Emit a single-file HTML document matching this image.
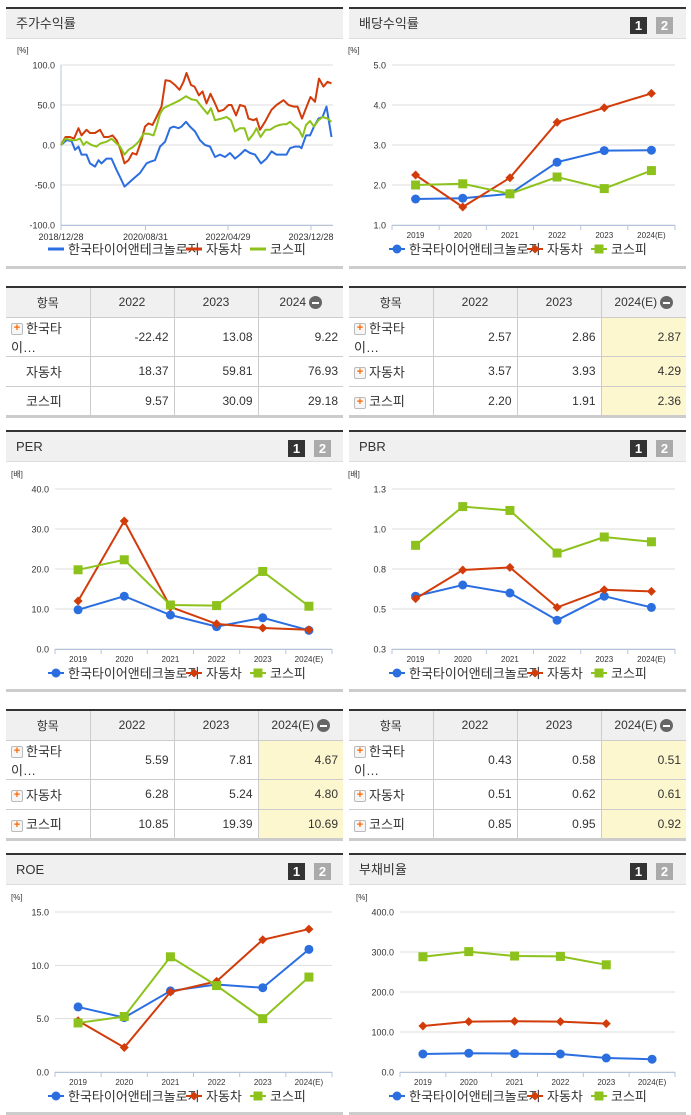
<!DOCTYPE html>
<html><head><meta charset="utf-8">
<style>
body{margin:0;width:691px;height:1115px;background:#fff;position:relative;overflow:hidden;font-family:"Liberation Sans","Noto Sans CJK KR",sans-serif;}
.panel{position:absolute;border-top:2px solid #333;border-bottom:3px solid #ccc;box-sizing:border-box;}
.ttl{position:absolute;left:0;top:0;right:0;height:30px;background:#f0f0f0;border-bottom:1px solid #ddd;font-size:13px;color:#333;line-height:30px;padding-left:10px;box-sizing:border-box;}
.btn{position:absolute;top:8px;width:17px;height:17px;font-size:13px;font-weight:bold;color:#fff;text-align:center;line-height:17px;}
table{position:absolute;border-collapse:collapse;border-top:2px solid #333;border-bottom:3px solid #ccc;font-size:12px;color:#333;}
td,th{border:1px solid #ccc;height:30px;padding:0 5px;box-sizing:border-box;}
th{background:#f0f0f0;font-weight:normal;text-align:center;}
td{text-align:right;}
td.n{text-align:left;font-size:13px;}
tr td:first-child,tr th:first-child{border-left:none;}
tr td:last-child,tr th:last-child{border-right:none;}
.y{background:#fdf7cf;}
.plus{display:inline-block;width:10px;height:10px;border:1px solid #bbb;border-radius:2px;background:#f6f6f6;color:#f60;font-size:11px;line-height:9px;text-align:center;font-weight:bold;vertical-align:middle;margin-right:3px;}
.minus{display:inline-block;width:13px;height:13px;border-radius:50%;background:#666;vertical-align:middle;position:relative;margin-left:3px;}
.minus:after{content:"";position:absolute;left:3px;top:6px;width:7px;height:2px;background:#fff;}
svg{position:absolute;left:0;top:0;}
</style></head><body>

<div class="panel" style="left:6px;top:7px;width:337px;height:262px;"><div class="ttl">주가수익률</div></div>
<div class="panel" style="left:349px;top:7px;width:337px;height:262px;"><div class="ttl">배당수익률</div>
<div class="btn" style="left:281px;background:#333;">1</div><div class="btn" style="left:307px;background:#aaa;">2</div></div>
<div class="panel" style="left:6px;top:430px;width:337px;height:262px;"><div class="ttl">PER</div>
<div class="btn" style="left:282px;background:#333;">1</div><div class="btn" style="left:308px;background:#aaa;">2</div></div>
<div class="panel" style="left:349px;top:430px;width:337px;height:262px;"><div class="ttl">PBR</div>
<div class="btn" style="left:281px;background:#333;">1</div><div class="btn" style="left:307px;background:#aaa;">2</div></div>
<div class="panel" style="left:6px;top:853px;width:337px;height:262px;"><div class="ttl">ROE</div>
<div class="btn" style="left:282px;background:#333;">1</div><div class="btn" style="left:308px;background:#aaa;">2</div></div>
<div class="panel" style="left:349px;top:853px;width:337px;height:262px;"><div class="ttl">부채비율</div>
<div class="btn" style="left:281px;background:#333;">1</div><div class="btn" style="left:307px;background:#aaa;">2</div></div>

<table style="left:6px;top:286px;width:337px;">
<tr><th style="width:84px">항목</th><th style="width:84px">2022</th><th style="width:84px">2023</th><th>2024<span class="minus"></span></th></tr>
<tr><td class="n"><span class="plus">+</span>한국타이…</td><td>-22.42</td><td>13.08</td><td>9.22</td></tr>
<tr><td class="n" style="padding-left:20px">자동차</td><td>18.37</td><td>59.81</td><td>76.93</td></tr>
<tr><td class="n" style="padding-left:20px">코스피</td><td>9.57</td><td>30.09</td><td>29.18</td></tr>
</table>
<table style="left:349px;top:286px;width:337px;">
<tr><th style="width:84px">항목</th><th style="width:84px">2022</th><th style="width:84px">2023</th><th class="y" style="background:#f0f0f0">2024(E)<span class="minus"></span></th></tr>
<tr><td class="n"><span class="plus">+</span>한국타이…</td><td>2.57</td><td>2.86</td><td class="y">2.87</td></tr>
<tr><td class="n"><span class="plus">+</span>자동차</td><td>3.57</td><td>3.93</td><td class="y">4.29</td></tr>
<tr><td class="n"><span class="plus">+</span>코스피</td><td>2.20</td><td>1.91</td><td class="y">2.36</td></tr>
</table>
<table style="left:6px;top:709px;width:337px;">
<tr><th style="width:84px">항목</th><th style="width:84px">2022</th><th style="width:84px">2023</th><th>2024(E)<span class="minus"></span></th></tr>
<tr><td class="n"><span class="plus">+</span>한국타이…</td><td>5.59</td><td>7.81</td><td class="y">4.67</td></tr>
<tr><td class="n"><span class="plus">+</span>자동차</td><td>6.28</td><td>5.24</td><td class="y">4.80</td></tr>
<tr><td class="n"><span class="plus">+</span>코스피</td><td>10.85</td><td>19.39</td><td class="y">10.69</td></tr>
</table>
<table style="left:349px;top:709px;width:337px;">
<tr><th style="width:84px">항목</th><th style="width:84px">2022</th><th style="width:84px">2023</th><th>2024(E)<span class="minus"></span></th></tr>
<tr><td class="n"><span class="plus">+</span>한국타이…</td><td>0.43</td><td>0.58</td><td class="y">0.51</td></tr>
<tr><td class="n"><span class="plus">+</span>자동차</td><td>0.51</td><td>0.62</td><td class="y">0.61</td></tr>
<tr><td class="n"><span class="plus">+</span>코스피</td><td>0.85</td><td>0.95</td><td class="y">0.92</td></tr>
</table>

<svg id="s" width="691" height="1115"></svg>

<script>
// ---- stock return (years since 2018/12/28) ----
const stockTicks = [100, 50, 0, -50, -100];
const stockTickLabels = ["100.0", "50.0", "0.0", "-50.0", "-100.0"];
const stockDateLabels = ["2018/12/28", "2020/08/31", "2022/04/29", "2023/12/28"];
const stockDateT = [0, 1.69, 3.34, 5.0];
const tireT = [0,.11,.21,.28,.35,.41,.51,.58,.68,.75,.81,.91,1.01,1.11,1.18,1.27,1.38,1.45,1.58,1.71,1.78,1.88,1.98,2.08,2.18,2.25,2.35,2.41,2.50,2.58,2.68,2.78,2.88,2.98,3.08,3.18,3.28,3.38,3.48,3.58,3.68,3.78,3.88,4.00,4.11,4.21,4.31,4.45,4.51,4.58,4.68,4.77,4.81,4.90,4.98,5.06,5.15,5.23,5.31,5.41];
const tireV = [0,6,5,-6,-2,-12,-12,-23,-27,-19,-23,-17,-17,-31,-40,-52,-46,-42,-35,-23,-21,-19,-2,4,21,23,21,23,29,23,17,6,0,-2,-15,-12,-15,-10,-17,-12,-6,-10,-12,-23,-17,-8,-12,-12,-12,-4,-2,-2,-4,12,12,23,33,35,48,10];
const autoT = [0,.09,.18,.26,.35,.41,.51,.58,.68,.78,.86,.95,1.03,1.11,1.18,1.27,1.35,1.43,1.51,1.61,1.68,1.75,1.83,1.91,2.01,2.09,2.18,2.28,2.37,2.45,2.51,2.6,2.67,2.76,2.83,2.91,2.99,3.08,3.15,3.25,3.35,3.41,3.5,3.58,3.68,3.75,3.85,3.91,3.98,4.08,4.21,4.31,4.45,4.55,4.65,4.73,4.82,4.9,4.99,5.08,5.16,5.25,5.33,5.41];
const autoV = [0,10,10,8,21,12,19,15,15,19,10,10,12,6,-4,-23,-19,-10,-12,6,23,27,25,35,48,81,80,75,69,79,90,75,73,62,67,52,64,52,42,44,50,50,37,50,48,33,31,33,19,29,44,50,56,50,48,48,33,46,60,54,83,73,79,77];
const kospiT = [0,.09,.21,.3,.38,.45,.51,.61,.71,.79,.91,1.01,1.11,1.18,1.27,1.35,1.45,1.55,1.65,1.75,1.85,1.91,1.98,2.05,2.18,2.28,2.38,2.5,2.61,2.71,2.81,2.93,3.0,3.08,3.21,3.31,3.4,3.48,3.58,3.67,3.75,3.85,3.91,3.99,4.09,4.18,4.28,4.37,4.45,4.51,4.58,4.68,4.76,4.83,4.9,4.98,5.06,5.15,5.23,5.33,5.41];
const kospiV = [0,8,6,6,8,0,4,0,-2,2,4,8,2,-2,-12,-6,-2,4,14,14,12,23,39,46,50,53,56,61,57,56,48,39,46,31,33,35,31,17,21,21,6,14,21,10,19,19,23,25,26,26,29,23,19,10,25,30,23,31,35,33,29];

// ---- yearly charts ----
const years = ["2019","2020","2021","2022","2023","2024(E)"];
const divTicks = [5,4,3,2,1];
const divTickLabels = ["5.0","4.0","3.0","2.0","1.0"];
const divTire = [1.65,1.67,1.78,2.57,2.86,2.87];
const divAuto = [2.25,1.45,2.18,3.57,3.93,4.29];
const divKospi = [2.0,2.03,1.78,2.20,1.91,2.36];
const perTicks = [40,30,20,10,0];
const perTickLabels = ["40.0","30.0","20.0","10.0","0.0"];
const perTire = [9.8,13.2,8.5,5.59,7.81,4.67];
const perAuto = [12,32,10.5,6.28,5.24,4.80];
const perKospi = [19.8,22.3,11,10.85,19.39,10.69];
const pbrTicks = [1.25,1.0,0.75,0.5,0.25];
const pbrTickLabels = ["1.3","1.0","0.8","0.5","0.3"];
const pbrTire = [0.58,0.65,0.60,0.43,0.58,0.51];
const pbrAuto = [0.565,0.744,0.76,0.51,0.62,0.61];
const pbrKospi = [0.898,1.14,1.116,0.85,0.95,0.92];
const roeTicks = [15,10,5,0];
const roeTickLabels = ["15.0","10.0","5.0","0.0"];
const roeTire = [6.1,5.1,7.6,8.2,7.9,11.5];
const roeAuto = [4.8,2.3,7.5,8.5,12.4,13.4];
const roeKospi = [4.6,5.2,10.8,8.1,5.0,8.9];
const debtTicks = [400,300,200,100,0];
const debtTickLabels = ["400.0","300.0","200.0","100.0","0.0"];
const debtTire = [45,47,46,45,35,32];
const debtAuto = [115,126,127,126,121,null];
const debtKospi = [288,301,290,289,268,null];

const seriesNames = ["한국타이어앤테크놀로지","자동차","코스피"];
const colors = ["#2b6ee0","#d23c0a","#8cc21b"];

const S = document.getElementById('s');
const NS = 'http://www.w3.org/2000/svg';
function mk(tag, attrs, parent){const e=document.createElementNS(NS,tag);for(const k in attrs)e.setAttribute(k,attrs[k]);(parent||S).appendChild(e);return e;}
function txt(x,y,s,size,anchor,parent){const t=mk('text',{x:x,y:y,'font-size':size,'text-anchor':anchor||'start',fill:'#333','font-family':'"Liberation Sans","Noto Sans CJK KR",sans-serif'},parent);t.textContent=s;return t;}

function marker(g,k,x,y){
  let m;
  if(k===0) m=mk('circle',{cx:x,cy:y,r:4.5,fill:colors[0]},g);
  else if(k===1) m=mk('path',{d:`M${x} ${y-4.5}L${x+4.5} ${y}L${x} ${y+4.5}L${x-4.5} ${y}Z`,fill:colors[1]},g);
  else m=mk('rect',{x:x-4.5,y:y-4.5,width:9,height:9,fill:colors[2]},g);
  
  
}

function frame(P, ax0, ax1, ticks, labels, vmin, vmax, unit){
  const top=P+58, bot=P+218;
  const yS=v=>bot-(v-vmin)/(vmax-vmin)*(bot-top);
  const g=mk('g',{});
  
  
  const u=txt(ax0-44,P+46,unit,8,'start',g);
  
  
  ticks.forEach((t,i)=>{
    const y=yS(t);
    const gl=mk('line',{x1:ax0,x2:ax1,y1:y,y2:y,stroke:'#ddd','stroke-width':1},g);
    
    
    const tl=txt(ax0-6,y+3.5,labels[i],9,'end',g);
    
    
  });
  mk('line',{x1:ax0,x2:ax1,y1:bot+0.5,y2:bot+0.5,stroke:'#b5c4dd','stroke-width':1},g);
  return yS;
}

function legend(P, x0, lineOnly){
  const g=mk('g',{});
  
  
  const y=P+242;
  const offs=[0,138,202];
  seriesNames.forEach((n,k)=>{
    const x=x0+offs[k];
    const it=mk('g',{},g);
    
    
    mk('line',{x1:x,x2:x+16,y1:y,y2:y,stroke:colors[k],'stroke-width':lineOnly?3:2},it);
    if(!lineOnly) marker(it,k,x+8,y);
    txt(x+20,y+5,n,13,'start',it);
  });
}

function catChart(P, ax0, ax1, ticks, labels, unit, seriesArr){
  const yS=frame(P,ax0,ax1,ticks,labels,ticks[ticks.length-1],ticks[0],unit);
  const bw=(ax1-ax0)/years.length;
  const xS=i=>ax0+bw*(i+0.5);
  const bot=P+218;
  const xa=mk('g',{});
  
  
  for(let i=0;i<=years.length;i++) mk('line',{x1:ax0+bw*i,x2:ax0+bw*i,y1:bot,y2:bot+5,stroke:'#b5c4dd'},xa);
  years.forEach((yr,i)=>{const t=txt(xS(i),P+231,yr,8,'middle',xa);});
  seriesArr.forEach((arr,k)=>{
    const g=mk('g',{});
    
    
    let d='';
    arr.forEach((v,i)=>{if(v==null)return;d+=(d?'L':'M')+xS(i)+' '+yS(v);});
    mk('path',{d:d,fill:'none',stroke:colors[k],'stroke-width':2},g);
    arr.forEach((v,i)=>{if(v!=null) marker(g,k,xS(i),yS(v));});
  });
}

// stock chart
(function(){
  const P=7, ax0=61, ax1=333;
  const yS=frame(P,ax0,ax1,stockTicks,stockTickLabels,-100,100,'[%]');
  const xT=t=>ax0+t*50;
  const xa=mk('g',{});
  
  
  mk('line',{x1:ax0,x2:ax0,y1:P+58,y2:P+222,stroke:'#b5c4dd'},xa);
  stockDateT.forEach((t,i)=>{
    mk('line',{x1:xT(t),x2:xT(t),y1:P+218,y2:P+223,stroke:'#b5c4dd'},xa);
    const l=txt(xT(t),P+233,stockDateLabels[i],9,'middle',xa);
    
    
  });
  [[tireT,tireV],[autoT,autoV],[kospiT,kospiV]].forEach((s,k)=>{
    let d='';
    s[0].forEach((t,i)=>{d+=(i?'L':'M')+xT(t).toFixed(1)+' '+yS(s[1][i]).toFixed(1);});
    const p=mk('path',{d:d,fill:'none',stroke:colors[k],'stroke-width':2,'stroke-linejoin':'round'});
    
    
  });
  legend(P,48,true);
})();

catChart(7,392,675,divTicks,divTickLabels,'[%]',[divTire,divAuto,divKospi]);
legend(7,389,false);
catChart(431,55,332,perTicks,perTickLabels,'[배]',[perTire,perAuto,perKospi]);
legend(431,48,false);
catChart(431,392,675,pbrTicks,pbrTickLabels,'[배]',[pbrTire,pbrAuto,pbrKospi]);
legend(431,389,false);
catChart(854,55,332,roeTicks,roeTickLabels,'[%]',[roeTire,roeAuto,roeKospi]);
legend(854,48,false);
catChart(854,400,675,debtTicks,debtTickLabels,'[%]',[debtTire,debtAuto,debtKospi]);
legend(854,389,false);
</script>
</body></html>
